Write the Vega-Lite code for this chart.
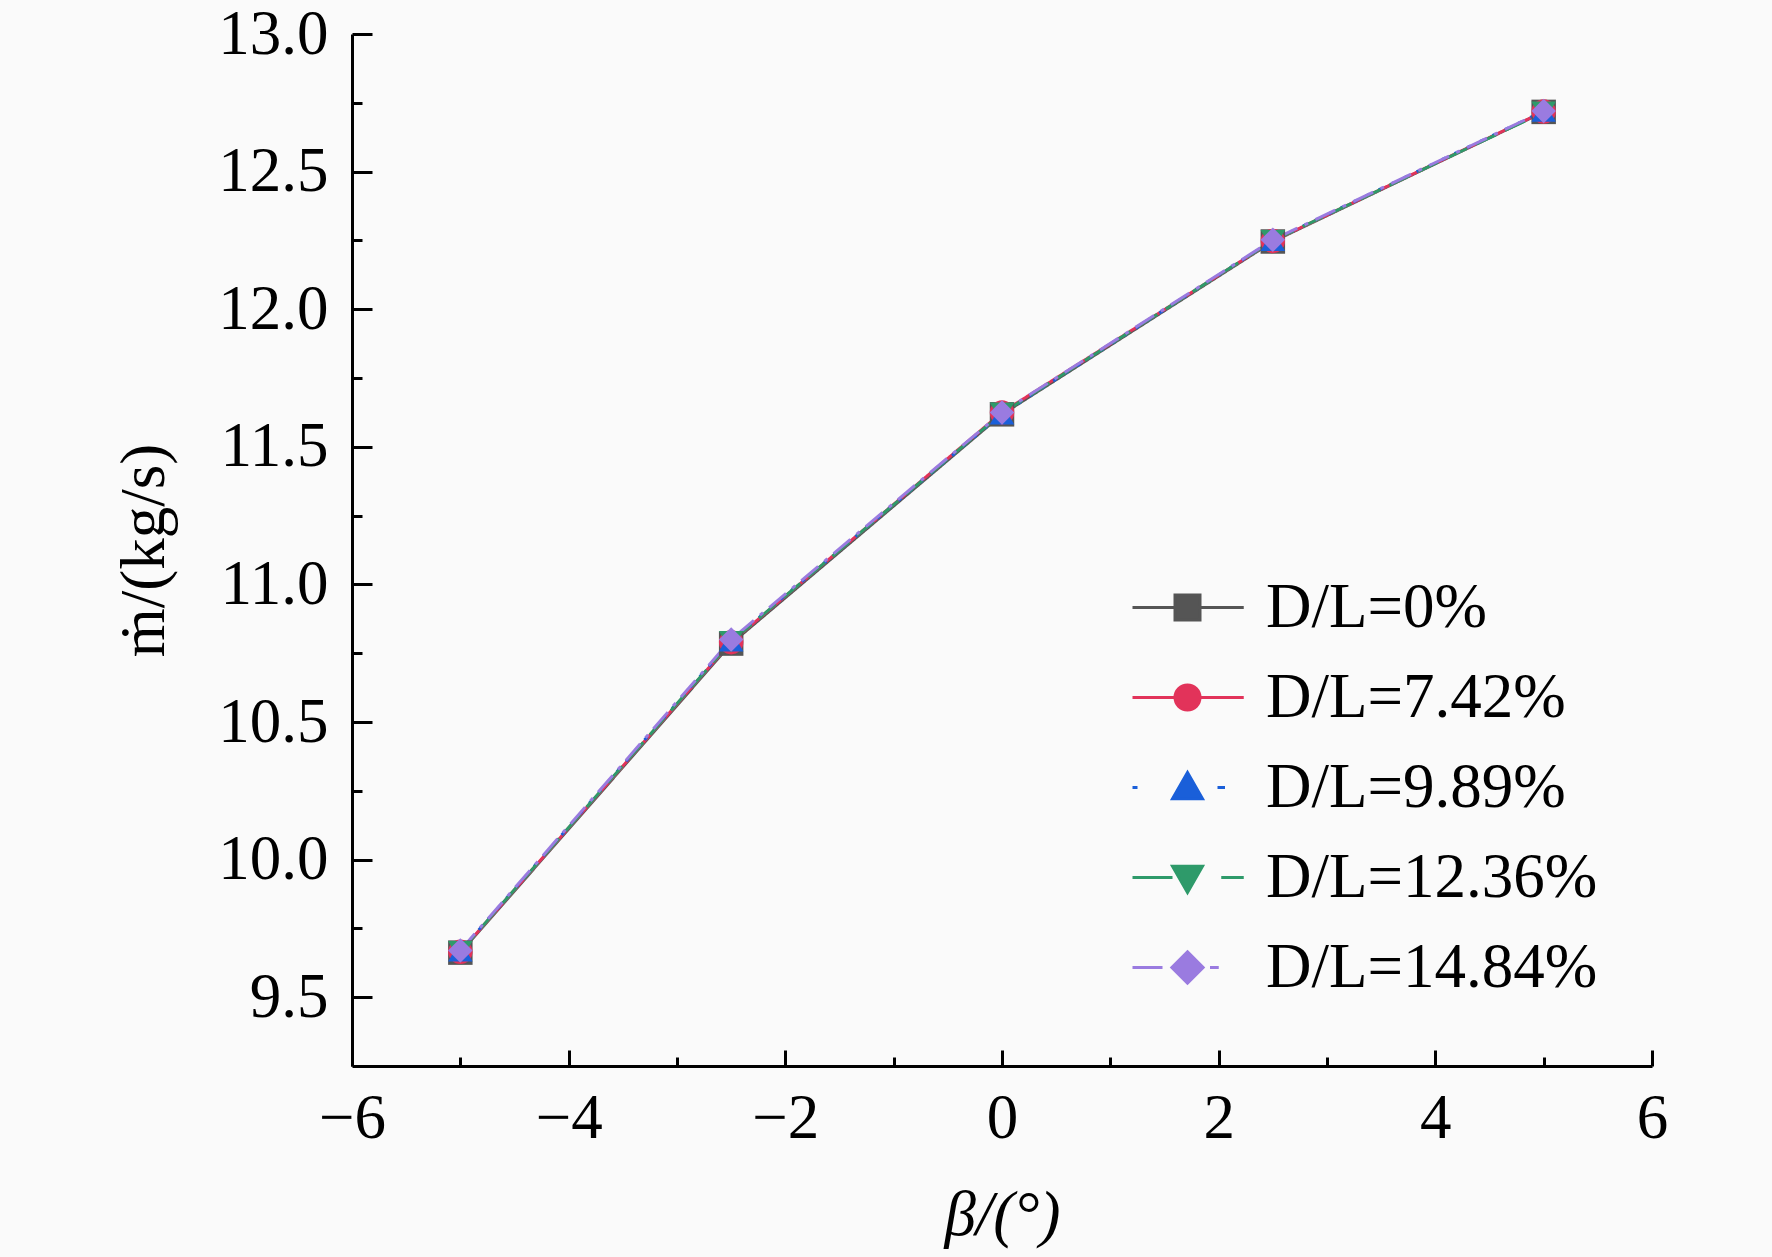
{
  "$schema": "https://vega.github.io/schema/vega-lite/v6.json",
  "width": 1300,
  "height": 1032,
  "autosize": {"type": "none"},
  "padding": {"left": 352, "top": 34, "right": 120, "bottom": 191},
  "background": "#fafafa",
  "data": {
    "values": [
      {"beta": -5, "series": "D/L=0%", "m": 9.662},
      {"beta": -2.5, "series": "D/L=0%", "m": 10.785},
      {"beta": 0, "series": "D/L=0%", "m": 11.618},
      {"beta": 2.5, "series": "D/L=0%", "m": 12.246},
      {"beta": 5, "series": "D/L=0%", "m": 12.717},
      {"beta": -5, "series": "D/L=7.42%", "m": 9.665},
      {"beta": -2.5, "series": "D/L=7.42%", "m": 10.79},
      {"beta": 0, "series": "D/L=7.42%", "m": 11.625},
      {"beta": 2.5, "series": "D/L=7.42%", "m": 12.248},
      {"beta": 5, "series": "D/L=7.42%", "m": 12.718},
      {"beta": -5, "series": "D/L=9.89%", "m": 9.668},
      {"beta": -2.5, "series": "D/L=9.89%", "m": 10.795},
      {"beta": 0, "series": "D/L=9.89%", "m": 11.62},
      {"beta": 2.5, "series": "D/L=9.89%", "m": 12.25},
      {"beta": 5, "series": "D/L=9.89%", "m": 12.72},
      {"beta": -5, "series": "D/L=12.36%", "m": 9.666},
      {"beta": -2.5, "series": "D/L=12.36%", "m": 10.792},
      {"beta": 0, "series": "D/L=12.36%", "m": 11.622},
      {"beta": 2.5, "series": "D/L=12.36%", "m": 12.249},
      {"beta": 5, "series": "D/L=12.36%", "m": 12.716},
      {"beta": -5, "series": "D/L=14.84%", "m": 9.67},
      {"beta": -2.5, "series": "D/L=14.84%", "m": 10.8},
      {"beta": 0, "series": "D/L=14.84%", "m": 11.625},
      {"beta": 2.5, "series": "D/L=14.84%", "m": 12.252},
      {"beta": 5, "series": "D/L=14.84%", "m": 12.72}
    ]
  },
  "layer": [
    {
      "mark": {"type": "line", "strokeWidth": 3},
      "encoding": {
        "x": {
          "field": "beta",
          "type": "quantitative",
          "scale": {"domain": [-6, 6], "nice": false, "zero": false},
          "title": "β/(°)",
          "axis": {
            "orient": "bottom",
            "values": [-6, -4, -2, 0, 2, 4, 6],
            "grid": false,
            "domainColor": "black",
            "domainWidth": 3,
            "tickColor": "black",
            "tickWidth": 3,
            "tickSize": -16,
            "labelPadding": 37,
            "labelFlush": false,
            "labelOverlap": false,
            "labelFont": "Liberation Serif",
            "labelFontSize": 63,
            "labelColor": "black",
            "titleFont": "Liberation Serif",
            "titleFontSize": 63,
            "titleFontWeight": "normal",
            "titleFontStyle": "italic",
            "titleColor": "black",
            "titlePadding": 34
          }
        },
        "y": {
          "field": "m",
          "type": "quantitative",
          "scale": {"domain": [9.25, 13], "nice": false, "zero": false},
          "title": "ṁ/(kg/s)",
          "axis": {
            "orient": "left",
            "values": [9.5, 10, 10.5, 11, 11.5, 12, 12.5, 13],
            "format": ".1f",
            "grid": false,
            "domainColor": "black",
            "domainWidth": 3,
            "tickColor": "black",
            "tickWidth": 3,
            "tickSize": -20,
            "labelPadding": 44,
            "labelFlush": false,
            "labelOverlap": false,
            "labelFont": "Liberation Serif",
            "labelFontSize": 63,
            "labelColor": "black",
            "titleFont": "Liberation Serif",
            "titleFontSize": 63,
            "titleFontWeight": "normal",
            "titleColor": "black",
            "titlePadding": 41
          }
        },
        "color": {
          "field": "series",
          "type": "nominal",
          "sort": null,
          "scale": {
            "domain": ["D/L=0%", "D/L=7.42%", "D/L=9.89%", "D/L=12.36%", "D/L=14.84%"],
            "range": ["#555555", "#e2335a", "#1a5fd9", "#2e9a6a", "#9a7be0"]
          },
          "legend": null
        },
        "strokeDash": {
          "field": "series",
          "type": "nominal",
          "scale": {
            "domain": ["D/L=0%", "D/L=7.42%", "D/L=9.89%", "D/L=12.36%", "D/L=14.84%"],
            "range": [[1, 0], [1, 0], [4, 10], [22, 10], [22, 8, 4, 8]]
          },
          "legend": null
        }
      }
    },
    {
      "mark": {"type": "point", "filled": true, "opacity": 1, "size": 600},
      "encoding": {
        "x": {"field": "beta", "type": "quantitative", "axis": null},
        "y": {"field": "m", "type": "quantitative", "axis": null},
        "color": {"field": "series", "type": "nominal", "legend": null},
        "shape": {
          "field": "series",
          "type": "nominal",
          "scale": {
            "domain": ["D/L=0%", "D/L=7.42%", "D/L=9.89%", "D/L=12.36%", "D/L=14.84%"],
            "range": ["square", "circle", "triangle-up", "triangle-down", "diamond"]
          },
          "legend": null
        }
      }
    },
    {
      "mark": {"type": "line", "opacity": 0},
      "encoding": {
        "x": {
          "field": "beta",
          "type": "quantitative",
          "axis": {
            "orient": "bottom",
            "values": [-5, -3, -1, 1, 3, 5],
            "labels": false,
            "domain": false,
            "grid": false,
            "tickColor": "black",
            "tickWidth": 3,
            "tickSize": -9,
            "title": null
          }
        },
        "y": {
          "field": "m",
          "type": "quantitative",
          "axis": {
            "orient": "left",
            "values": [9.75, 10.25, 10.75, 11.25, 11.75, 12.25, 12.75],
            "labels": false,
            "domain": false,
            "grid": false,
            "tickColor": "black",
            "tickWidth": 3,
            "tickSize": -10,
            "title": null
          }
        }
      }
    },
    {
      "transform": [{"filter": "false"}],
      "mark": {"type": "point", "filled": true, "opacity": 1, "strokeWidth": 3},
      "encoding": {
        "x": {"field": "beta", "type": "quantitative", "axis": null},
        "y": {"field": "m", "type": "quantitative", "axis": null},
        "fill": {
          "field": "series",
          "type": "nominal",
          "scale": {
            "domain": ["D/L=0%", "D/L=7.42%", "D/L=9.89%", "D/L=12.36%", "D/L=14.84%"],
            "range": ["#555555", "#e2335a", "#1a5fd9", "#2e9a6a", "#9a7be0"]
          },
          "legend": {
            "orient": "none", "legendX": 804, "legendY": 542, "title": null,
            "labelFont": "Liberation Serif", "labelFontSize": 63, "labelColor": "black",
            "labelLimit": 600, "labelOffset": 47, "symbolSize": 625, "symbolStrokeWidth": 3,
            "symbolOpacity": 1, "rowPadding": 26, "padding": 0
          }
        },
        "stroke": {
          "field": "series",
          "type": "nominal",
          "scale": {
            "domain": ["D/L=0%", "D/L=7.42%", "D/L=9.89%", "D/L=12.36%", "D/L=14.84%"],
            "range": ["#555555", "#e2335a", "#1a5fd9", "#2e9a6a", "#9a7be0"]
          },
          "legend": {
            "orient": "none", "legendX": 804, "legendY": 542, "title": null,
            "labelFont": "Liberation Serif", "labelFontSize": 63, "labelColor": "black",
            "labelLimit": 600, "labelOffset": 47, "symbolSize": 625, "symbolStrokeWidth": 3,
            "symbolOpacity": 1, "rowPadding": 26, "padding": 0
          }
        },
        "shape": {
          "field": "series",
          "type": "nominal",
          "scale": {
            "domain": ["D/L=0%", "D/L=7.42%", "D/L=9.89%", "D/L=12.36%", "D/L=14.84%"],
            "range": [
              "M-4.4,0H4.5M-1,-1H1V1H-1Z",
              "M-4.4,0H4.5M1,0A1,1 0 1,1 -1,0A1,1 0 1,1 1,0Z",
              "M-4.4,0H-4.0M2.4,0H3.0M0,-1.2L1.2,0.9L-1.2,0.9Z",
              "M-4.4,0H-1.2M2.7,0H4.5M0,1.2L1.2,-0.9L-1.2,-0.9Z",
              "M-4.4,0H-2.0M1.8,0H2.5M0,-1.25L1.25,0L0,1.25L-1.25,0Z"
            ]
          },
          "legend": {
            "orient": "none", "legendX": 804, "legendY": 542, "title": null,
            "labelFont": "Liberation Serif", "labelFontSize": 63, "labelColor": "black",
            "labelLimit": 600, "labelOffset": 47, "symbolSize": 625, "symbolStrokeWidth": 3,
            "symbolOpacity": 1, "rowPadding": 26, "padding": 0
          }
        }
      }
    }
  ],
  "resolve": {
    "scale": {"shape": "independent", "fill": "independent", "stroke": "independent"},
    "axis": {"x": "independent", "y": "independent"}
  },
  "config": {"view": {"stroke": null}}
}
